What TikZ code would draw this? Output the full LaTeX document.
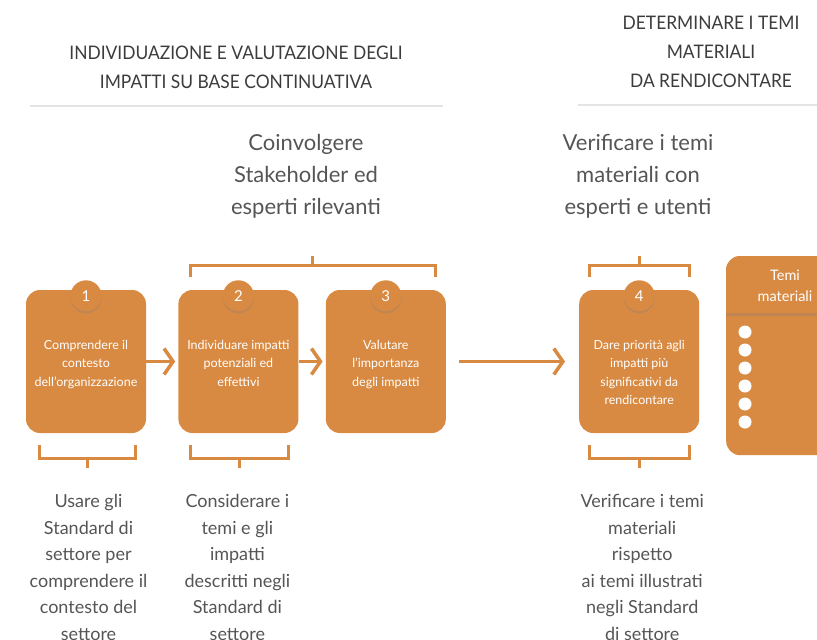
\documentclass[tikz,border=0pt]{standalone}
\usepackage{fontspec}
\setmainfont{Lato}
\newfontfamily\headfont[FakeStretch=0.93]{Lato}
\usetikzlibrary{calc,arrows.meta,positioning,shadows}

\definecolor{ocra}{RGB}{216,138,66}
\definecolor{testo}{RGB}{85,85,85}
\definecolor{titolo}{RGB}{60,60,60}
\definecolor{riga}{RGB}{228,228,228}

\tikzset{
  passo/.style={fill=ocra, rounded corners=14pt, minimum width=120pt,
    minimum height=143pt, inner sep=0pt},
  numero/.style={circle, fill=ocra, minimum size=31pt, inner sep=0pt,
    text=white, font=\fontsize{15}{15}\selectfont,
    drop shadow={opacity=0.3, shadow xshift=0pt, shadow yshift=-2pt}},
  dentro/.style={text=white, align=center, anchor=north, inner sep=0pt,
    font=\fontsize{12.5}{18.5}\selectfont},
  graffa/.style={draw=ocra, line width=3pt},
  freccia/.style={draw=ocra, line width=3.5pt,
    -{Straight Barb[length=9pt,width=26pt]}},
  nota/.style={text=testo, align=center, anchor=north, inner sep=0pt,
    font=\fontsize{18}{26.5}\selectfont},
  sopra/.style={text=testo, align=center, inner sep=0pt,
    font=\fontsize{22}{32}\selectfont},
  titolo/.style={text=titolo, align=center, inner sep=0pt,
    font=\headfont\fontsize{18.7}{29}\selectfont},
  punto/.style={circle, fill=white, minimum size=13pt, inner sep=0pt},
}

\begin{document}
\begin{tikzpicture}[x=1pt, y=-1pt]
  \useasboundingbox (0,0) rectangle (817,640);
  \clip (0,0) rectangle (817,640);

  % titoli
  \node[titolo] (h1) at (236,67) {INDIVIDUAZIONE E VALUTAZIONE DEGLI\\IMPATTI SU BASE CONTINUATIVA};
  \node[titolo] (h2) at (711,52) {DETERMINARE I TEMI\\MATERIALI\\DA RENDICONTARE};
  \coordinate (r1a) at (30,106);
  \coordinate (r1b) at (443,106);
  \coordinate (r2a) at (578,105);
  \coordinate (r2b) at (817,105);
  \draw[riga, line width=1.2pt] (r1a) -- (r1b);
  \draw[riga, line width=1.2pt] (r2a) -- (r2b);

  \node[sopra] (c1) at (306,176) {Coinvolgere\\Stakeholder ed\\esperti rilevanti};
  \node[sopra] (c2) at (638,176) {Verificare i temi\\materiali con\\esperti e utenti};

  % passi
  \node[passo] (s1) at (86,361.5) {};
  \node[passo, right=32pt of s1] (s2) {};
  \node[passo, right=27pt of s2] (s3) {};
  \node[passo, right=133pt of s3] (s4) {};

  \foreach \s/\n in {s1/1,s2/2,s3/3,s4/4}
    {\node[numero] (n\n) at ($(\s.north)+(0,6)$) {\n};}

  \node[dentro] (t1) at ($(s1.north)+(0,50)$) {Comprendere il\\contesto\\dell'organizzazione};
  \node[dentro] (t2) at ($(s2.north)+(0,50)$) {Individuare impatti\\potenziali ed\\effettivi};
  \node[dentro] (t3) at ($(s3.north)+(0,50)$) {Valutare\\l’importanza\\degli impatti};
  \node[dentro] (t4) at ($(s4.north)+(0,50)$) {Dare priorità agli\\impatti più\\significativi da\\rendicontare};

  \draw[freccia, shorten >=3pt] (s1) -- (s2);
  \draw[freccia, shorten >=3pt] (s2) -- (s3);
  \draw[freccia, shorten <=13pt, shorten >=14pt] (s3) -- (s4);

  % temi materiali
  \node[passo, anchor=north west, minimum height=199pt] (temi) at (726,256) {};
  \fill[ocra, drop shadow={opacity=0.3, shadow xshift=0pt, shadow yshift=-3pt}]
    (726,313) [rounded corners=14pt] -- (726,256) -- (860,256) [sharp corners] -- (860,313) -- cycle;
  \node[text=white, align=center, inner sep=0pt, font=\fontsize{14.5}{21}\selectfont] (tt) at (785,286) {Temi\\materiali};
  \foreach \i in {0,...,5}
    {\node[punto] (p\i) at (745,332+18*\i) {};}

  % parentesi sopra
  \coordinate (g1a) at ($(s2.north west)+(12,-13)$);
  \coordinate (g1b) at ($(s3.north east)+(-11,-13)$);
  \draw[graffa] (g1a) -- ++(0,-11) -| (g1b);
  \draw[graffa] ($(g1a)!0.5!(g1b)+(0,-11)$) -- ++(0,-10);
  \coordinate (g4a) at ($(s4.north west)+(10,-13)$);
  \coordinate (g4b) at ($(s4.north east)+(-10,-13)$);
  \draw[graffa] (g4a) -- ++(0,-11) -| (g4b);
  \draw[graffa] ($(g4a)!0.5!(g4b)+(0,-11)$) -- ++(0,-10);

  % parentesi sotto
  \foreach \s/\a/\b in {s1/14/11, s2/12/10, s4/10/10} {
    \coordinate (b\s a) at ($(\s.south west)+(\a,12)$);
    \coordinate (b\s b) at ($(\s.south east)+(-\b,12)$);
    \draw[graffa] (b\s a) -- ++(0,13) -| (b\s b);
    \draw[graffa] ($(b\s a)!0.5!(b\s b)+(0,13)$) -- ++(0,10) coordinate (m\s);
  }

  \node[nota] (u1) at ($(ms1)+(1,26)$) {Usare gli\\Standard di\\settore per\\comprendere il\\contesto del\\settore};
  \node[nota] (u2) at ($(ms2)+(-2,26)$) {Considerare i\\temi e gli\\impatti\\descritti negli\\Standard di\\settore};
  \node[nota] (u4) at ($(ms4)+(3,26)$) {Verificare i temi\\materiali\\rispetto\\ai temi illustrati\\negli Standard\\di settore};
\end{tikzpicture}
\end{document}
